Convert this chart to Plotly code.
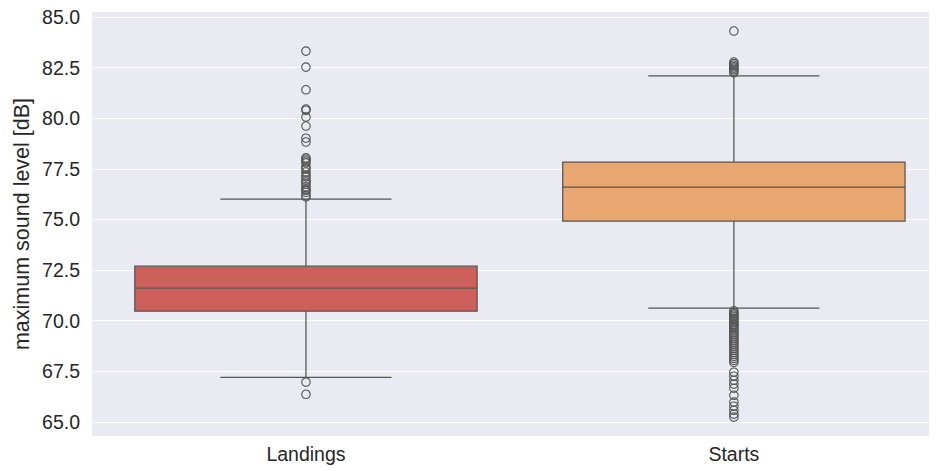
import plotly.graph_objects as go

categories = ["Landings", "Starts"]
q1_vals = [70.48, 74.93]
median_vals = [71.62, 76.60]
q3_vals = [72.70, 77.84]
lower_fence = [67.22, 70.63]
upper_fence = [76.01, 82.10]
fill_colors = ["#CD605A", "#E8A670"]

landings_outliers = [83.32, 82.53, 81.41, 80.46, 80.40, 80.06, 79.62, 79.02, 78.83,
                     78.05, 77.98, 77.89, 77.80, 77.60, 77.50, 77.35, 77.20, 77.11,
                     76.95, 76.86, 76.75, 76.62, 76.50, 76.44, 76.35, 76.20, 76.12,
                     66.98, 66.38]
starts_outliers = [84.31, 82.78, 82.70, 82.62, 82.55, 82.48, 82.40, 82.32, 82.25,
                   70.50, 70.42, 70.35, 70.28, 70.20, 70.12, 70.05, 69.97, 69.90,
                   69.82, 69.75, 69.67, 69.60, 69.50, 69.42, 69.35, 69.25, 69.15,
                   69.05, 68.95, 68.85, 68.75, 68.65, 68.55, 68.45, 68.35, 68.25,
                   68.15, 68.05, 67.95, 67.47, 67.27, 67.07, 66.88, 66.68, 66.33,
                   65.99, 65.79, 65.59, 65.40, 65.25]
outliers = [landings_outliers, starts_outliers]

y_ticks = [65.0, 67.5, 70.0, 72.5, 75.0, 77.5, 80.0, 82.5, 85.0]
y_title = "maximum sound level [dB]"

line_col = "#555555"
text_col = "#262626"
FONT = "Liberation Sans, Arial, sans-serif"

fig = go.Figure()
for i, cat in enumerate(categories):
    fig.add_trace(go.Box(
        x=[cat], q1=[q1_vals[i]], median=[median_vals[i]], q3=[q3_vals[i]],
        lowerfence=[lower_fence[i]], upperfence=[upper_fence[i]],
        fillcolor=fill_colors[i], line=dict(color=line_col, width=1.25),
        width=0.8, whiskerwidth=0.5, boxpoints=False, showlegend=False,
        hoverinfo="skip",
    ))
    fig.add_trace(go.Scatter(
        x=[cat] * len(outliers[i]), y=outliers[i], mode="markers",
        marker=dict(symbol="circle-open", size=8.5, color=line_col,
                    line=dict(width=1.1, color=line_col)),
        showlegend=False, hoverinfo="skip",
    ))

fig.update_layout(
    width=921, height=463,
    margin=dict(l=84, r=0, t=4, b=35),
    paper_bgcolor="white", plot_bgcolor="#EAEAF2",
    font=dict(family=FONT, size=20, color=text_col),
    xaxis=dict(type="category", categoryorder="array", categoryarray=categories,
               range=[-0.5, 1.456], showgrid=False, zeroline=False, automargin=False,
               showline=False, ticks="", ticklabelstandoff=4, ticklabeloverflow="allow",
               tickfont=dict(size=19.5, color=text_col)),
    yaxis=dict(range=[64.32, 85.25], tickvals=y_ticks, automargin=False,
               ticktext=[f"{v:.1f}" for v in y_ticks], ticklabeloverflow="allow",
               showgrid=True, gridcolor="white", gridwidth=1.2,
               zeroline=False, showline=False, ticks="", ticklabelstandoff=11,
               tickfont=dict(size=19.5, color=text_col),
               title=dict(text=y_title, font=dict(size=21.5, color=text_col), standoff=6)),
)

fig.write_html("out.html")
